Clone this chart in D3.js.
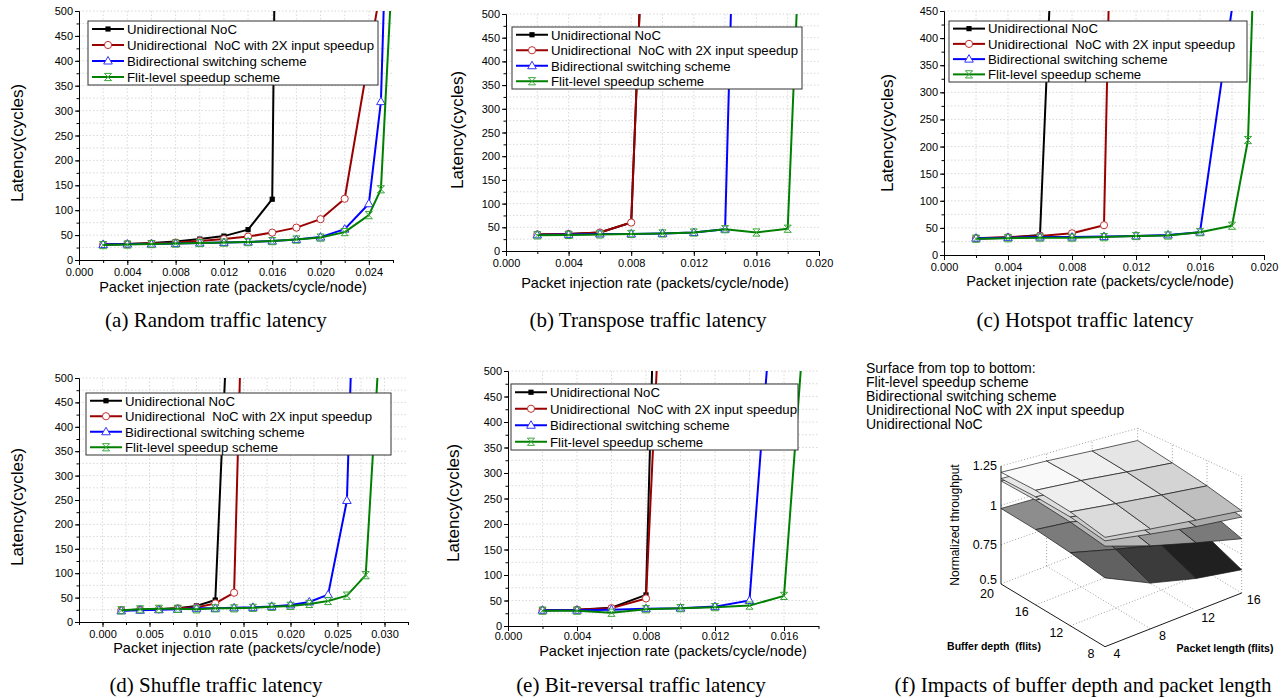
<!DOCTYPE html>
<html>
<head>
<meta charset="utf-8">
<script src="https://cdn.jsdelivr.net/npm/d3@7.9.0/dist/d3.min.js"></script>
<style>
  body { margin: 0; background: #fff; }
  svg text { font-family: "Liberation Sans", Arial, sans-serif; }
  .caption { font-family: "Liberation Serif", "Times New Roman", serif !important; font-size: 21px; }
</style>
</head>
<body>
<svg id="fig" width="1287" height="698"></svg>
<script>
// legend entries shared by the five latency charts
const seriesLabels = ['Unidirectional NoC', 'Unidirectional  NoC with 2X input speedup',
  'Bidirectional switching scheme', 'Flit-level speedup scheme'];
const seriesColors = ['#000000', '#9a0000', '#0000ff', '#008000'];

// (a) Random traffic  [injection rate, latency]
const randomUni = [[0.002,31],[0.004,32],[0.006,34],[0.008,37],[0.010,42],[0.012,48],[0.014,61],[0.016,122],[0.0162,570]];
const random2x = [[0.002,31],[0.004,32],[0.006,33],[0.008,35],[0.010,38],[0.012,42],[0.014,47],[0.016,55],[0.018,65],[0.020,82],[0.022,123],[0.0248,520]];
const randomBi = [[0.002,31],[0.004,32],[0.006,32],[0.008,33],[0.010,34],[0.012,35],[0.014,36],[0.016,38],[0.018,41],[0.020,46],[0.022,62],[0.024,113],[0.025,318],[0.0253,560]];
const randomFlit = [[0.002,30],[0.004,31],[0.006,32],[0.008,33],[0.010,34],[0.012,35],[0.014,36],[0.016,38],[0.018,41],[0.020,45],[0.022,56],[0.024,90],[0.025,142],[0.026,613]];

// (b) Transpose traffic (black curve lies under the red one)
const transUni = [[0.002,35],[0.004,36],[0.006,39],[0.008,60],[0.0086,560]];
const trans2x = [[0.002,35],[0.004,36],[0.006,39],[0.008,60],[0.0086,560]];
const transBi = [[0.002,34],[0.004,35],[0.006,36],[0.008,36],[0.010,37],[0.012,39],[0.014,46],[0.0145,660]];
const transFlit = [[0.002,33],[0.004,34],[0.006,35],[0.008,36],[0.010,37],[0.012,39],[0.014,46],[0.016,39],[0.018,47],[0.0186,524]];

// (c) Hotspot traffic
const hotUni = [[0.002,30],[0.004,32],[0.006,37],[0.0066,463]];
const hot2x = [[0.002,31],[0.004,33],[0.006,35],[0.008,40],[0.010,55],[0.0103,470]];
const hotBi = [[0.002,31],[0.004,32],[0.006,33],[0.008,33],[0.010,34],[0.012,35],[0.014,37],[0.016,42],[0.018,455]];
const hotFlit = [[0.002,30],[0.004,31],[0.006,32],[0.008,32],[0.010,33],[0.012,35],[0.014,36],[0.016,42],[0.018,54],[0.019,212],[0.0193,480]];

// (d) Shuffle traffic
const shufUni = [[0.002,24],[0.004,25],[0.006,26],[0.008,28],[0.010,33],[0.012,45],[0.0131,531]];
const shuf2x = [[0.002,24],[0.004,25],[0.006,26],[0.008,28],[0.010,30],[0.012,38],[0.014,60],[0.0147,560]];
const shufBi = [[0.002,23],[0.004,24],[0.006,25],[0.008,26],[0.010,28],[0.012,28],[0.014,29],[0.016,30],[0.018,32],[0.020,35],[0.022,41],[0.024,56],[0.026,249],[0.0265,560]];
const shufFlit = [[0.002,24],[0.004,26],[0.006,27],[0.008,27],[0.010,26],[0.012,28],[0.014,28],[0.016,29],[0.018,31],[0.020,33],[0.022,37],[0.024,43],[0.026,54],[0.028,96],[0.0294,550]];

// (e) Bit-reversal traffic
const bitUni = [[0.002,31],[0.004,32],[0.006,36],[0.008,61],[0.0084,560]];
const bit2x = [[0.002,31],[0.004,32],[0.006,35],[0.008,54],[0.0087,560]];
const bitBi = [[0.002,31],[0.004,31],[0.006,32],[0.008,34],[0.010,35],[0.012,38],[0.014,50],[0.0152,590]];
const bitFlit = [[0.002,30],[0.004,30],[0.006,26],[0.008,33],[0.010,35],[0.012,37],[0.014,40],[0.016,59],[0.0171,560]];

// (f) normalized throughput, rows = buffer depth, cols = packet length
const packetLength = [4, 8, 12, 16];
const bufferDepth = [20, 16, 12, 8];
const thrUni = [[0.98,0.97,0.95,0.92],[0.96,0.93,0.89,0.85],[0.93,0.86,0.79,0.74],[0.89,0.77,0.70,0.65]];
const thr2x = [[1.155,1.14,1.11,1.08],[1.14,1.11,1.06,1.02],[1.11,1.05,0.98,0.92],[1.07,0.99,0.92,0.85]];
const thrBi = [[1.17,1.16,1.14,1.12],[1.16,1.14,1.11,1.08],[1.14,1.10,1.06,1.03],[1.10,1.06,1.02,0.99]];
const thrFlit = [[1.21,1.20,1.18,1.16],[1.20,1.18,1.15,1.12],[1.17,1.14,1.11,1.08],[1.12,1.09,1.06,1.03]];
const surfaceLegend = ['Surface from top to bottom:', 'Flit-level speedup scheme', 'Bidirectional switching scheme',
  'Unidirectional NoC with 2X input speedup', 'Unidirectional NoC'];

const captions = ['(a) Random traffic latency', '(b) Transpose traffic latency', '(c) Hotspot traffic latency',
  '(d) Shuffle traffic latency', '(e) Bit-reversal traffic latency', '(f) Impacts of buffer depth and packet length'];

const svg = d3.select('#fig');
const fmt3 = d3.format('.3f');

function stepRange(a, b, s) {
  // d3.range with float cleanup
  return d3.range(Math.round((b - a) / s) + 1).map(i => +(a + i * s).toFixed(5));
}

function drawMarker(g, kind, cx, cy, color) {
  if (kind === 0) {
    g.append('rect').attr('x', cx - 2.6).attr('y', cy - 2.6).attr('width', 5.2).attr('height', 5.2).attr('fill', color);
  } else if (kind === 1) {
    g.append('circle').attr('cx', cx).attr('cy', cy).attr('r', 3.6)
      .attr('fill', '#fff').attr('stroke', '#c03030').attr('stroke-width', 1);
  } else if (kind === 2) {
    g.append('path').attr('d', `M${cx},${cy - 4.5}L${cx + 4.3},${cy + 3}L${cx - 4.3},${cy + 3}Z`)
      .attr('fill', '#fff').attr('stroke', '#3333ff').attr('stroke-width', 1);
  } else {
    const s = 3.6;
    g.append('path')
      .attr('d', `M${cx - s},${cy - s}L${cx + s},${cy + s}M${cx - s},${cy + s}L${cx + s},${cy - s}` +
        `M${cx - s},${cy - s}H${cx + s}M${cx - s},${cy + s}H${cx + s}`)
      .attr('fill', 'none').attr('stroke', '#3aa63a').attr('stroke-width', 1);
  }
}

function drawPanel(p, idx) {
  const g = svg.append('g');
  const x = d3.scaleLinear().domain(p.xDomain).range([p.left, p.right]);
  const y = d3.scaleLinear().domain(p.yDomain).range([p.bottom, p.top]);

  // dotted grid at every major and minor tick
  g.append('g').selectAll('line').data(p.xMinor.filter(v => x(v) > p.left + 1 && x(v) < p.right - 1)).join('line')
    .attr('x1', d => x(d)).attr('x2', d => x(d)).attr('y1', p.top).attr('y2', p.bottom)
    .attr('stroke', '#cfcfcf').attr('stroke-width', 0.8).attr('stroke-dasharray', '1.5,2');
  g.append('g').selectAll('line').data(p.yMinor.filter(v => v > p.yDomain[0])).join('line')
    .attr('x1', p.left).attr('x2', p.right).attr('y1', d => y(d)).attr('y2', d => y(d))
    .attr('stroke', '#cfcfcf').attr('stroke-width', 0.8).attr('stroke-dasharray', '1.5,2');

  // axes
  g.append('g').attr('transform', `translate(0,${p.bottom})`)
    .call(d3.axisBottom(x).tickValues(p.xMajor).tickFormat(fmt3).tickSize(5).tickSizeOuter(0).tickPadding(p.xPad));
  g.append('g').attr('transform', `translate(0,${p.bottom})`)
    .call(d3.axisBottom(x).tickValues(p.xMinor).tickFormat('').tickSize(3).tickSizeOuter(0));
  g.append('g').attr('transform', `translate(${p.left},0)`)
    .call(d3.axisLeft(y).tickValues(p.yMajor).tickFormat(d3.format('d')).tickSize(4).tickSizeOuter(0).tickPadding(2));
  g.append('g').attr('transform', `translate(${p.left},0)`)
    .call(d3.axisLeft(y).tickValues(p.yMinor).tickFormat('').tickSize(2.5).tickSizeOuter(0));
  g.selectAll('.tick text').attr('font-size', 11).attr('fill', '#000')
    .attr('font-family', '"Liberation Sans", Arial, sans-serif');
  g.selectAll('.domain, .tick line').attr('stroke', '#000');

  // axis titles
  g.append('text').attr('transform', `translate(${p.yLabel[0]},${p.yLabel[1]}) rotate(-90)`)
    .attr('text-anchor', 'middle').attr('dy', '0.35em').attr('font-size', 17).text('Latency(cycles)');
  g.append('text').attr('x', p.xLabel[0]).attr('y', p.xLabel[1]).attr('text-anchor', 'middle')
    .attr('dy', '0.35em').attr('font-size', 14.5).text('Packet injection rate (packets/cycle/node)');

  // curves, clipped to the plot area
  const clipId = 'clip' + idx;
  svg.append('clipPath').attr('id', clipId).append('rect')
    .attr('x', p.left).attr('y', p.top).attr('width', p.right - p.left).attr('height', p.bottom - p.top);
  const line = d3.line().x(d => x(d[0])).y(d => y(d[1]));
  const plot = g.append('g').attr('clip-path', `url(#${clipId})`);
  p.series.forEach((s, i) => {
    plot.append('path').datum(s).attr('d', line).attr('fill', 'none')
      .attr('stroke', seriesColors[i]).attr('stroke-width', 2).attr('stroke-linejoin', 'round');
    s.filter(d => d[1] <= p.yDomain[1]).forEach(d => drawMarker(plot, i, x(d[0]), y(d[1]), seriesColors[i]));
  });

  // legend
  const L = p.legend;
  const lg = g.append('g');
  lg.append('rect').attr('x', L.x).attr('y', L.y).attr('width', L.w).attr('height', L.h)
    .attr('fill', '#fff').attr('stroke', '#333').attr('stroke-width', 1);
  const rowH = L.h / 4;
  seriesLabels.forEach((name, i) => {
    const cy = L.y + rowH * (i + 0.5);
    lg.append('line').attr('x1', L.x + 4).attr('x2', L.x + 36).attr('y1', cy).attr('y2', cy)
      .attr('stroke', seriesColors[i]).attr('stroke-width', 2);
    drawMarker(lg, i, L.x + 20, cy, seriesColors[i]);
    lg.append('text').attr('x', L.x + 39).attr('y', cy).attr('dy', '0.36em')
      .attr('font-size', 13.2).style('white-space', 'pre').text(name);
  });
}

const panels = [
  { left: 79, right: 393, top: 11, bottom: 260, xDomain: [0, 0.026], yDomain: [0, 500],
    xMajor: stepRange(0, 0.024, 0.004), xMinor: stepRange(0, 0.026, 0.002), xPad: 3,
    yMajor: stepRange(0, 500, 50), yMinor: stepRange(0, 500, 25),
    yLabel: [17, 143], xLabel: [233, 287], legend: { x: 88, y: 21, w: 290, h: 64 },
    series: [randomUni, random2x, randomBi, randomFlit] },
  { left: 506, right: 819, top: 14, bottom: 251, xDomain: [0, 0.020], yDomain: [0, 500],
    xMajor: stepRange(0, 0.020, 0.004), xMinor: stepRange(0, 0.020, 0.002), xPad: 3,
    yMajor: stepRange(0, 500, 50), yMinor: stepRange(0, 500, 25),
    yLabel: [457, 130], xLabel: [655, 283], legend: { x: 512, y: 27, w: 290, h: 62 },
    series: [transUni, trans2x, transBi, transFlit] },
  { left: 944, right: 1264, top: 11, bottom: 255, xDomain: [0, 0.020], yDomain: [0, 450],
    xMajor: stepRange(0, 0.020, 0.004), xMinor: stepRange(0, 0.020, 0.002), xPad: 3,
    yMajor: stepRange(0, 450, 50), yMinor: stepRange(0, 450, 25),
    yLabel: [887, 133], xLabel: [1100, 281], legend: { x: 949, y: 21, w: 298, h: 61 },
    series: [hotUni, hot2x, hotBi, hotFlit] },
  { left: 79, right: 408, top: 378, bottom: 622, xDomain: [-0.0025, 0.0325], yDomain: [0, 500],
    xMajor: stepRange(0, 0.030, 0.005), xMinor: stepRange(-0.0025, 0.0325, 0.0025), xPad: 3,
    yMajor: stepRange(0, 500, 50), yMinor: stepRange(0, 500, 25),
    yLabel: [17, 507], xLabel: [247, 648], legend: { x: 86, y: 393, w: 305, h: 62 },
    series: [shufUni, shuf2x, shufBi, shufFlit] },
  { left: 508, right: 818.5, top: 371, bottom: 626, xDomain: [0, 0.018], yDomain: [0, 500],
    xMajor: stepRange(0, 0.016, 0.004), xMinor: stepRange(0, 0.018, 0.002), xPad: 1,
    yMajor: stepRange(0, 500, 50), yMinor: stepRange(0, 500, 25),
    yLabel: [453, 503], xLabel: [673, 651], legend: { x: 511, y: 384, w: 287, h: 66 },
    series: [bitUni, bit2x, bitBi, bitFlit] }
];
panels.forEach(drawPanel);

// ---- (f) 3D surface plot ----
const uScale = d3.scaleLinear().domain([4, 16]).range([0, 1]);
const vScale = d3.scaleLinear().domain([20, 8]).range([0, 1]);
const wScale = d3.scaleLinear().domain([0.5, 1.25]).range([0, 1]);
// screen corners of the box: [p4 b20, p16 b20, p4 b8, p16 b8]
const floorCorners = [[1001, 584], [1137.7, 530.3], [1105, 646.7], [1241.7, 593]];
const topCorners = [[1001, 466], [1137.7, 428.3], [1105, 514.4], [1241.7, 476.7]];
function bilerp(c, u, v) {
  return [0, 1].map(k => (1 - u) * (1 - v) * c[0][k] + u * (1 - v) * c[1][k] + (1 - u) * v * c[2][k] + u * v * c[3][k]);
}
function proj(pl, bd, z) {
  const u = uScale(pl), v = vScale(bd), w = wScale(z);
  const f = bilerp(floorCorners, u, v), t = bilerp(topCorners, u, v);
  return [f[0] + (t[0] - f[0]) * w, f[1] + (t[1] - f[1]) * w];
}
const gf = svg.append('g');
const zTicks = [0.5, 0.75, 1, 1.25];
function dotted(a, b) {
  gf.append('line').attr('x1', a[0]).attr('y1', a[1]).attr('x2', b[0]).attr('y2', b[1])
    .attr('stroke', '#888').attr('stroke-width', 0.8).attr('stroke-dasharray', '1,2');
}
function solid(a, b) {
  gf.append('line').attr('x1', a[0]).attr('y1', a[1]).attr('x2', b[0]).attr('y2', b[1])
    .attr('stroke', '#000').attr('stroke-width', 0.9);
}
// floor grid
packetLength.slice(1).forEach(pl => dotted(proj(pl, 20, 0.5), proj(pl, 8, 0.5)));
bufferDepth.slice(0, 3).forEach(bd => dotted(proj(4, bd, 0.5), proj(16, bd, 0.5)));
// back wall (buffer depth 20)
packetLength.slice(1).forEach(pl => dotted(proj(pl, 20, 0.5), proj(pl, 20, 1.25)));
zTicks.slice(1).forEach(z => dotted(proj(4, 20, z), proj(16, 20, z)));
// right wall (packet length 16)
bufferDepth.slice(1).forEach(bd => dotted(proj(16, bd, 0.5), proj(16, bd, 1.25)));
zTicks.slice(1).forEach(z => dotted(proj(16, 20, z), proj(16, 8, z)));
// axes
solid(proj(4, 20, 0.5), proj(4, 20, 1.25));
solid(proj(4, 20, 0.5), proj(4, 8, 0.5));
solid(proj(4, 8, 0.5), proj(16, 8, 0.5));

// surfaces from bottom to top
const gray = d3.scaleLinear().domain([0.65, 1.21]).range(['#000000', '#ffffff']).clamp(true);
[thrUni, thr2x, thrBi, thrFlit].forEach(S => {
  for (let i = 0; i < 3; i++) {
    for (let j = 0; j < 3; j++) {
      const cells = [[j, i], [j + 1, i], [j + 1, i + 1], [j, i + 1]];
      const pts = cells.map(([c, r]) => proj(packetLength[c], bufferDepth[r], S[r][c]));
      const zMean = d3.mean(cells, ([c, r]) => S[r][c]);
      gf.append('path').attr('d', 'M' + pts.join('L') + 'Z')
        .attr('fill', gray(zMean)).attr('stroke', '#1a1a1a').attr('stroke-width', 0.7);
    }
  }
});

// tick labels
zTicks.forEach(z => {
  const pt = proj(4, 20, z);
  gf.append('text').attr('x', pt[0] - 4).attr('y', pt[1] - (z === 0.5 ? 4 : 0)).attr('dy', '0.35em')
    .attr('text-anchor', 'end').attr('font-size', 12.5).text(z === 1 ? '1' : String(z));
});
bufferDepth.forEach(bd => {
  const pt = proj(4, bd, 0.5);
  gf.append('text').attr('x', pt[0] - 14).attr('y', pt[1] + (bd === 20 ? 10 : 7)).attr('dy', '0.35em')
    .attr('text-anchor', 'middle').attr('font-size', 12.5).text(bd);
});
packetLength.forEach(pl => {
  const pt = proj(pl, 8, 0.5);
  gf.append('text').attr('x', pt[0] + 12).attr('y', pt[1] + 7).attr('dy', '0.35em').attr('text-anchor', 'middle')
    .attr('font-size', 12.5).text(pl);
});
gf.append('text').attr('transform', 'translate(955,525) rotate(-90)').attr('text-anchor', 'middle')
  .attr('dy', '0.35em').attr('font-size', 12).text('Normalized throughput');
gf.append('text').attr('x', 994).attr('y', 646).attr('dy', '0.35em').attr('text-anchor', 'middle')
  .attr('font-size', 10.5).attr('font-weight', 'bold').style('white-space', 'pre').text('Buffer depth  (flits)');
gf.append('text').attr('x', 1225).attr('y', 648).attr('dy', '0.35em').attr('text-anchor', 'middle')
  .attr('font-size', 10.5).attr('font-weight', 'bold').text('Packet length (flits)');
surfaceLegend.forEach((t, i) => {
  gf.append('text').attr('x', 866).attr('y', 368.5 + i * 14).attr('dy', '0.35em')
    .attr('font-size', 14).text(t);
});

// captions
const capPos = [[216, 327], [648, 327], [1085, 327], [216, 692], [641, 692], [1083, 692]];
captions.forEach((c, i) => {
  svg.append('text').attr('class', 'caption').attr('x', capPos[i][0]).attr('y', capPos[i][1])
    .attr('text-anchor', 'middle').text(c);
});
</script>
</body>
</html>
